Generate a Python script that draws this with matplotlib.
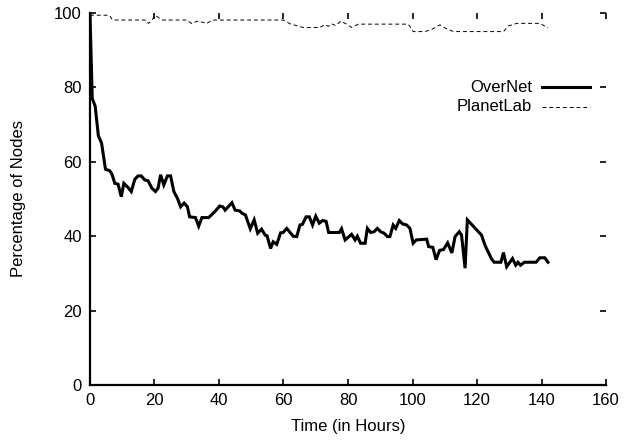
import matplotlib
matplotlib.use("Agg")
import matplotlib.pyplot as plt
from matplotlib.lines import Line2D

plt.rcParams['font.family'] = ['Liberation Sans', 'DejaVu Sans']

# OverNet availability
overnet_hours = [0, 0.7, 1.6, 2.6, 3.6, 4.8, 6.1, 6.8, 7.7, 8.7, 9.7, 10.5, 11.8, 12.8,
                 13.9, 14.9, 15.9, 17, 18, 19.2, 20.3, 21.1, 21.9, 22.9, 24, 25, 26, 27.1,
                 28.1, 29.2, 30.2, 30.9, 32.7, 33.7, 34.7, 36.8, 38.7, 40.2, 41.2, 41.9, 44,
                 45, 46.4, 47.1, 48.2, 49.7, 50.9, 52, 53.2, 54.3, 54.9, 56, 56.8, 57.9,
                 59.1, 59.9, 61, 63, 64.1, 65.1, 65.9, 67, 68, 69, 70, 71.1, 72.1, 73.2, 74,
                 77.3, 78, 79.1, 81.1, 82.2, 82.9, 83.9, 85.3, 86, 87, 88.1, 89.1, 90.1,
                 91.2, 92.2, 93, 94, 94.8, 95.9, 96.9, 98.2, 99.2, 100.2, 101.2, 104.4, 105,
                 106.3, 107.3, 108.4, 109.6, 110.9, 112.2, 113.2, 114.5, 115.2, 116.3, 117,
                 121.4, 122.5, 124.5, 125.3, 127.4, 128.2, 129.2, 131, 132, 132.7, 133.5,
                 134.7, 138.3, 139.5, 141, 142]
overnet_pct = [100, 77, 75, 67, 65, 58, 57.6, 56.7, 54.2, 54, 50.6, 54.2, 53.1, 52,
               55.3, 56.2, 56.2, 55.1, 54.9, 52.9, 52, 52.9, 56.5, 53.8, 56.2, 56.2, 52, 50.2,
               47.9, 48.9, 47.9, 45.2, 45, 42.7, 45, 45, 46.6, 48.1, 47.9, 47, 49,
               47, 46.8, 46.2, 45.7, 42, 44.4, 40.8, 41.9, 40.3, 40.1, 36.7, 38.5, 37.8,
               40.9, 41, 42.1, 40, 39.9, 43, 43.2, 45.2, 45.2, 43, 45.4, 43.5, 44.2, 44, 41,
               41, 42, 39, 40.5, 39, 40, 38.1, 38.1, 42.1, 41, 41.2, 42.1, 41.2,
               40.8, 39.9, 39.9, 43, 42.1, 44.2, 43.3, 43, 42.1, 38.1, 39, 39.2, 37.2,
               37, 33.7, 36.2, 36.4, 38.2, 35.5, 39.9, 41.2, 40.3, 31.4, 44.4,
               40.3, 37.5, 33.9, 33, 33, 35.6, 31.8, 34, 32.2, 33, 32.2,
               33, 33, 34.2, 34.2, 33]

# PlanetLab availability
planetlab_hours = [0, 6, 7, 17.3, 18.1, 19, 20.2, 21.7, 22.5, 30, 31.6, 33.2, 34.2, 35.2,
                   36, 38, 60, 62, 66.1, 71.3, 72.9, 73.9, 74.9, 76.2, 77.7, 79.6, 81.1,
                   83.2, 98.7, 100.2, 103.9, 106, 108.5, 110, 112.7, 128.2, 129.7, 132.3,
                   139.5, 142]
planetlab_pct = [99.4, 99.4, 98.1, 98.1, 97.2, 97.8, 99.4, 98.5, 98.1, 98.1, 97.1, 97.8, 97.6,
                 97.5, 97.1, 98.1, 98.1, 97.1, 96.1, 96.1, 96.9, 96.4, 97.1, 96.6, 97.8, 97,
                 96.1, 97, 97, 95, 95, 95.6, 96.8, 96, 95, 95, 96.5, 97.2, 97.2, 96]

x_ticks = [0, 20, 40, 60, 80, 100, 120, 140, 160]
y_ticks = [0, 20, 40, 60, 80, 100]

fig = plt.figure(figsize=(6.24, 4.4), dpi=100)
ax = fig.add_axes([0.1442, 0.125, 0.827, 0.8455])

ax.plot(overnet_hours, overnet_pct, color='black', lw=2.2, solid_joinstyle='miter')
ax.plot(planetlab_hours, planetlab_pct, color='black', lw=0.7, linestyle=(0, (4, 3)))

ax.set_xlim(0, 160)
ax.set_ylim(0, 100)
ax.set_xticks(x_ticks)
ax.set_yticks(y_ticks)
ax.tick_params(direction='in', top=True, right=True, length=4.5, width=1.2,
               labelsize=12, pad=6)
ax.spines['top'].set_visible(False)
ax.spines['right'].set_visible(False)
ax.spines['left'].set_linewidth(1.6)
ax.spines['bottom'].set_linewidth(1.6)

ax.set_xlabel('Time (in Hours)', fontsize=12, labelpad=8)
ax.set_ylabel('Percentage of Nodes', fontsize=12, labelpad=20)

# gnuplot-style key: right-justified labels, samples on the right
key_rows = [('OverNet', 2.2, '-', 0.801), ('PlanetLab', 0.7, (0, (4, 3)), 0.748)]
for label, lw, ls, ky in key_rows:
    ax.text(0.857, ky, label, transform=ax.transAxes, ha='right', va='center', fontsize=12)
    ax.add_line(Line2D([0.876, 0.969], [ky, ky], transform=ax.transAxes,
                       color='black', lw=lw, linestyle=ls))

fig.savefig('out.png', dpi=100)
